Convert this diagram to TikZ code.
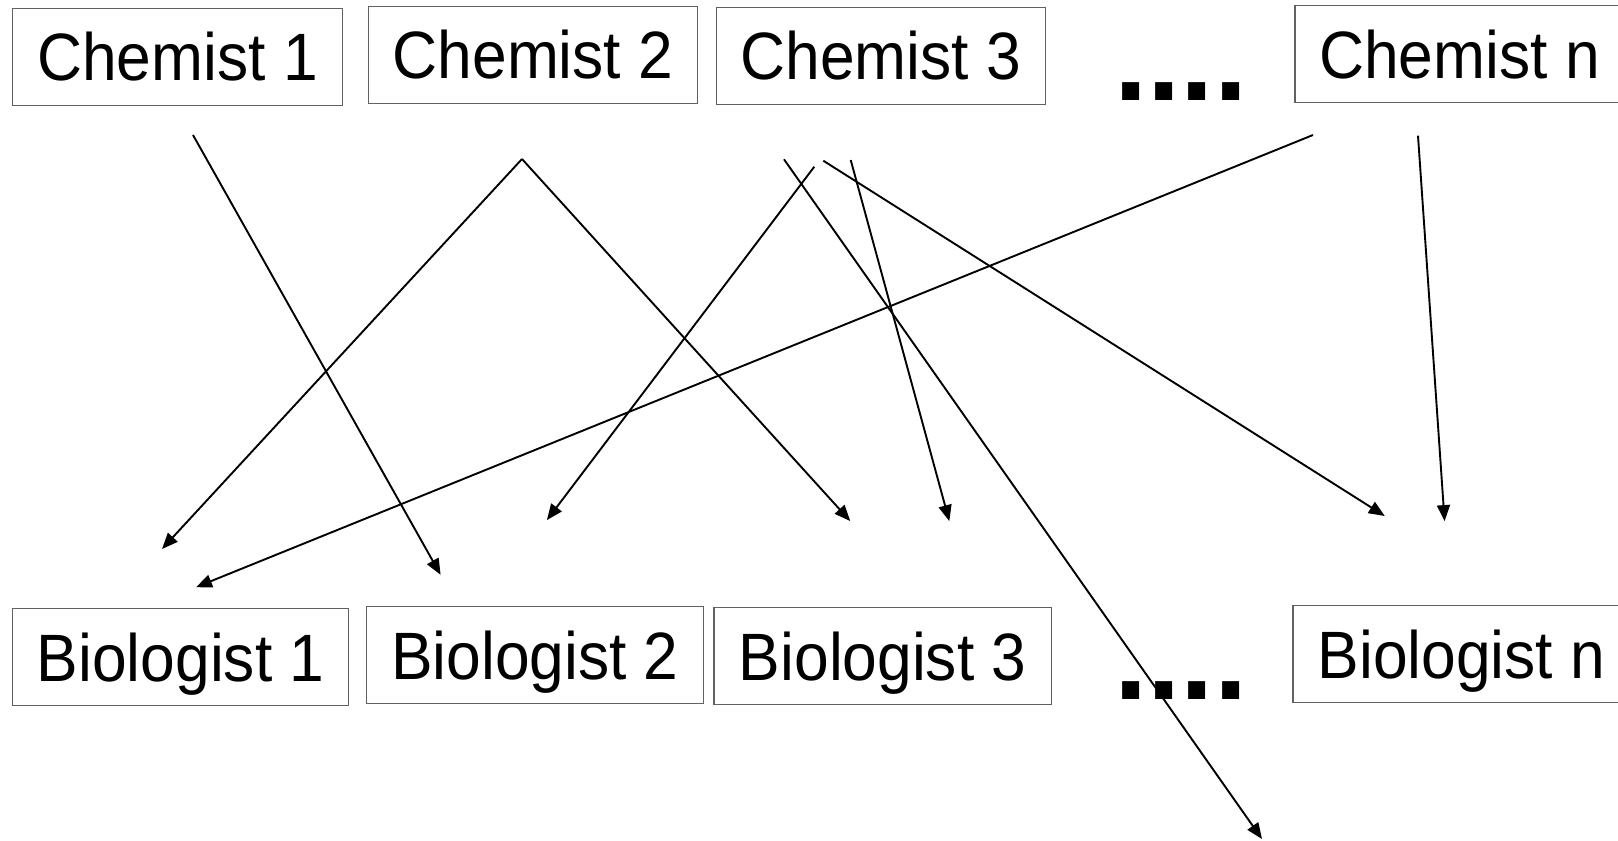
\documentclass[tikz,border=0pt]{standalone}
\usepackage{fontspec}
\setmainfont{Liberation Sans}
\newfontfamily\boxfont[FakeStretch=0.93]{Liberation Sans}
\usetikzlibrary{arrows.meta}
\begin{document}
\begin{tikzpicture}[x=1pt,y=-1pt,
  person/.style={draw=black!62, line width=1.3pt, minimum height=97pt, inner sep=0pt,
    font=\boxfont\fontsize{67}{70}\selectfont, text height=48pt, text depth=0pt},
  dots/.style={inner sep=0pt, anchor=base west, font=\bfseries\fontsize{120}{120}\selectfont},
  link/.style={line width=1.9pt, -{Triangle[length=16pt,width=13pt]}}]
\useasboundingbox (0,0) rectangle (1618,841);
% top row
\node[person, minimum width=330pt] (c1) at (177.5,56.8) {Chemist 1};
\node[person, minimum width=329pt] (c2) at (533,54.7) {Chemist 2};
\node[person, minimum width=329pt] (c3) at (880.7,55.7) {Chemist 3};
\node[dots] (d1) at (1114,100.7) {....};
\node[person, minimum width=329pt] (cn) at (1459.5,54.2) {Chemist n};
% bottom row
\node[person, minimum width=336.4pt] (b1) at (180.6,657.3) {Biologist 1};
\node[person, minimum width=337.5pt] (b2) at (535,655.3) {Biologist 2};
\node[person, minimum width=337.5pt] (b3) at (882.7,656.3) {Biologist 3};
\node[dots] (d2) at (1114,699) {....};
\node[person, minimum width=337pt] (bn) at (1461.5,654.2) {Biologist n};
% arrow end points
\coordinate (s1) at (193,135);
\coordinate (e1) at (440.6,574.8);
\coordinate (s2) at (522,159);
\coordinate (e2) at (162,549);
\coordinate (e3) at (850.3,521.1);
\coordinate (s4) at (814.3,166.7);
\coordinate (e4) at (546.9,520.1);
\coordinate (s5) at (784,159.3);
\coordinate (e5) at (1262,839);
\coordinate (s6) at (850.7,160);
\coordinate (e6) at (949.3,521.1);
\coordinate (s7) at (823.3,160.7);
\coordinate (e7) at (1384.8,516);
\coordinate (s8) at (1313,135);
\coordinate (e8) at (196,587.2);
\coordinate (s9) at (1418,135.7);
\coordinate (e9) at (1444.6,521.1);
% arrows
\draw[link] (s1) -- (e1);
\draw[link] (s2) -- (e2);
\draw[link] (s2) -- (e3);
\draw[link] (s4) -- (e4);
\draw[link] (s5) -- (e5);
\draw[link] (s6) -- (e6);
\draw[link] (s7) -- (e7);
\draw[link] (s8) -- (e8);
\draw[link] (s9) -- (e9);
\end{tikzpicture}
\end{document}
